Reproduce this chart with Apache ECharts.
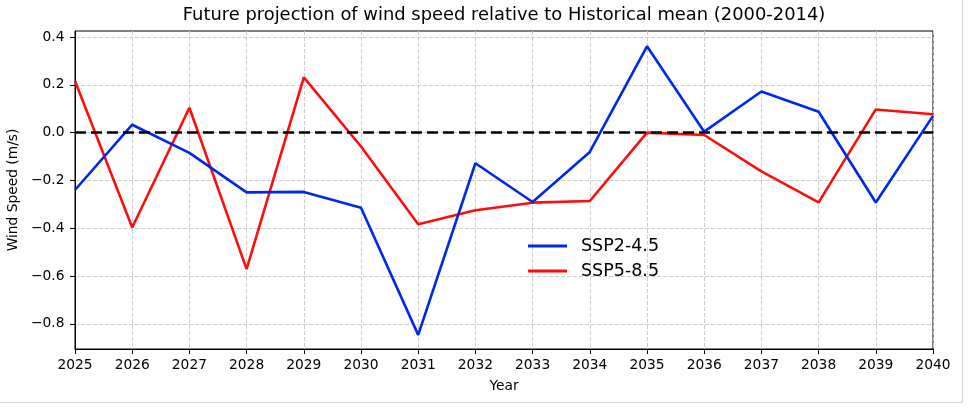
<!DOCTYPE html>
<html>
<head>
<meta charset="utf-8">
<script src="https://cdn.jsdelivr.net/npm/echarts@6/dist/echarts.min.js"></script>
<style>
html,body{margin:0;padding:0;background:#fff;}
#c{width:970px;height:408px;position:absolute;left:0;top:0;}
#frame{position:absolute;left:0;top:0;width:962px;height:402px;border-right:1px solid #d6d6d6;border-bottom:1px solid #d6d6d6;pointer-events:none;}
</style>
</head>
<body>
<div id="c"></div>
<div id="frame"></div>
<script>
const years = [2025,2026,2027,2028,2029,2030,2031,2032,2033,2034,2035,2036,2037,2038,2039,2040];
const ssp245 = [-0.24,0.033,-0.085,-0.25,-0.248,-0.314,-0.846,-0.128,-0.29,-0.081,0.361,0.004,0.172,0.087,-0.292,0.07];
const ssp585 = [0.216,-0.397,0.104,-0.571,0.231,-0.058,-0.383,-0.325,-0.293,-0.286,0.0,-0.01,-0.162,-0.292,0.097,0.077];
const yTicks = [0.4,0.2,0.0,-0.2,-0.4,-0.6,-0.8];
const seriesNames = ['SSP2-4.5','SSP5-8.5'];
const titleText = 'Future projection of wind speed relative to Historical mean (2000-2014)';

const FONT = 'DejaVu Sans';
const chart = echarts.init(document.getElementById('c'), null, {renderer:'canvas'});
const gridLine = {show:true, lineStyle:{color:'#cccccc', width:1, type:[4,2]}};
chart.setOption({
  animation:false,
  textStyle:{fontFamily:FONT, color:'#000'},
  title:{text:titleText, left:504, top:6, textAlign:'center', padding:0,
    textStyle:{fontFamily:FONT, fontSize:17.9, fontWeight:'normal', color:'#000'}},
  grid:{left:75, right:37, top:31, bottom:59, containLabel:false, outerBoundsMode:'none',
    show:true, borderColor:'#000', borderWidth:1, backgroundColor:'transparent'},
  legend:{
    orient:'vertical', left:528, top:237, padding:0, itemWidth:39, itemHeight:3, itemGap:7,
    icon:'rect',
    textStyle:{fontFamily:FONT, fontSize:17.5, color:'#000', padding:[0,0,0,9]},
    data:seriesNames
  },
  xAxis:{
    type:'value', min:2025, max:2040, interval:1,
    name:'Year', nameLocation:'middle', nameGap:30,
    nameTextStyle:{fontFamily:FONT, fontSize:13.8, color:'#000'},
    axisLine:{show:true, onZero:false, lineStyle:{color:'#000', width:1}},
    axisTick:{show:true, length:5, lineStyle:{color:'#000'}},
    axisLabel:{fontFamily:FONT, fontSize:13.8, color:'#000', margin:9.5, formatter:v=>String(v)},
    splitLine:gridLine
  },
  yAxis:{
    type:'value', min:-0.905, max:0.425,
    name:'Wind Speed (m/s)', nameLocation:'middle', nameGap:54,
    nameTextStyle:{fontFamily:FONT, fontSize:13.8, color:'#000'},
    axisLine:{show:true, onZero:false, lineStyle:{color:'#000', width:1}},
    axisTick:{show:true, length:5, lineStyle:{color:'#000'}, customValues:yTicks},
    axisLabel:{fontFamily:FONT, fontSize:13.8, color:'#000', margin:10.5, customValues:yTicks,
      formatter:v=>{const s=Number(v).toFixed(1); return s==='-0.0'?'0.0':s.replace('-','\u2212');}},
    splitLine:gridLine
  },
  series:[
    {name:seriesNames[0], type:'line', data:years.map((y,i)=>[y,ssp245[i]]), showSymbol:false, symbol:'none',
      lineStyle:{color:'#0028e8', width:2.6}, itemStyle:{color:'#0028e8'}, z:3},
    {name:seriesNames[1], type:'line', data:years.map((y,i)=>[y,ssp585[i]]), showSymbol:false, symbol:'none',
      lineStyle:{color:'#ff0d0d', width:2.6}, itemStyle:{color:'#ff0d0d'}, z:2,
      markLine:{silent:true, symbol:'none', label:{show:false},
        lineStyle:{color:'#000', width:2.6, type:[11,5]},
        data:[{yAxis:0}]}}
  ]
});
</script>
</body>
</html>
